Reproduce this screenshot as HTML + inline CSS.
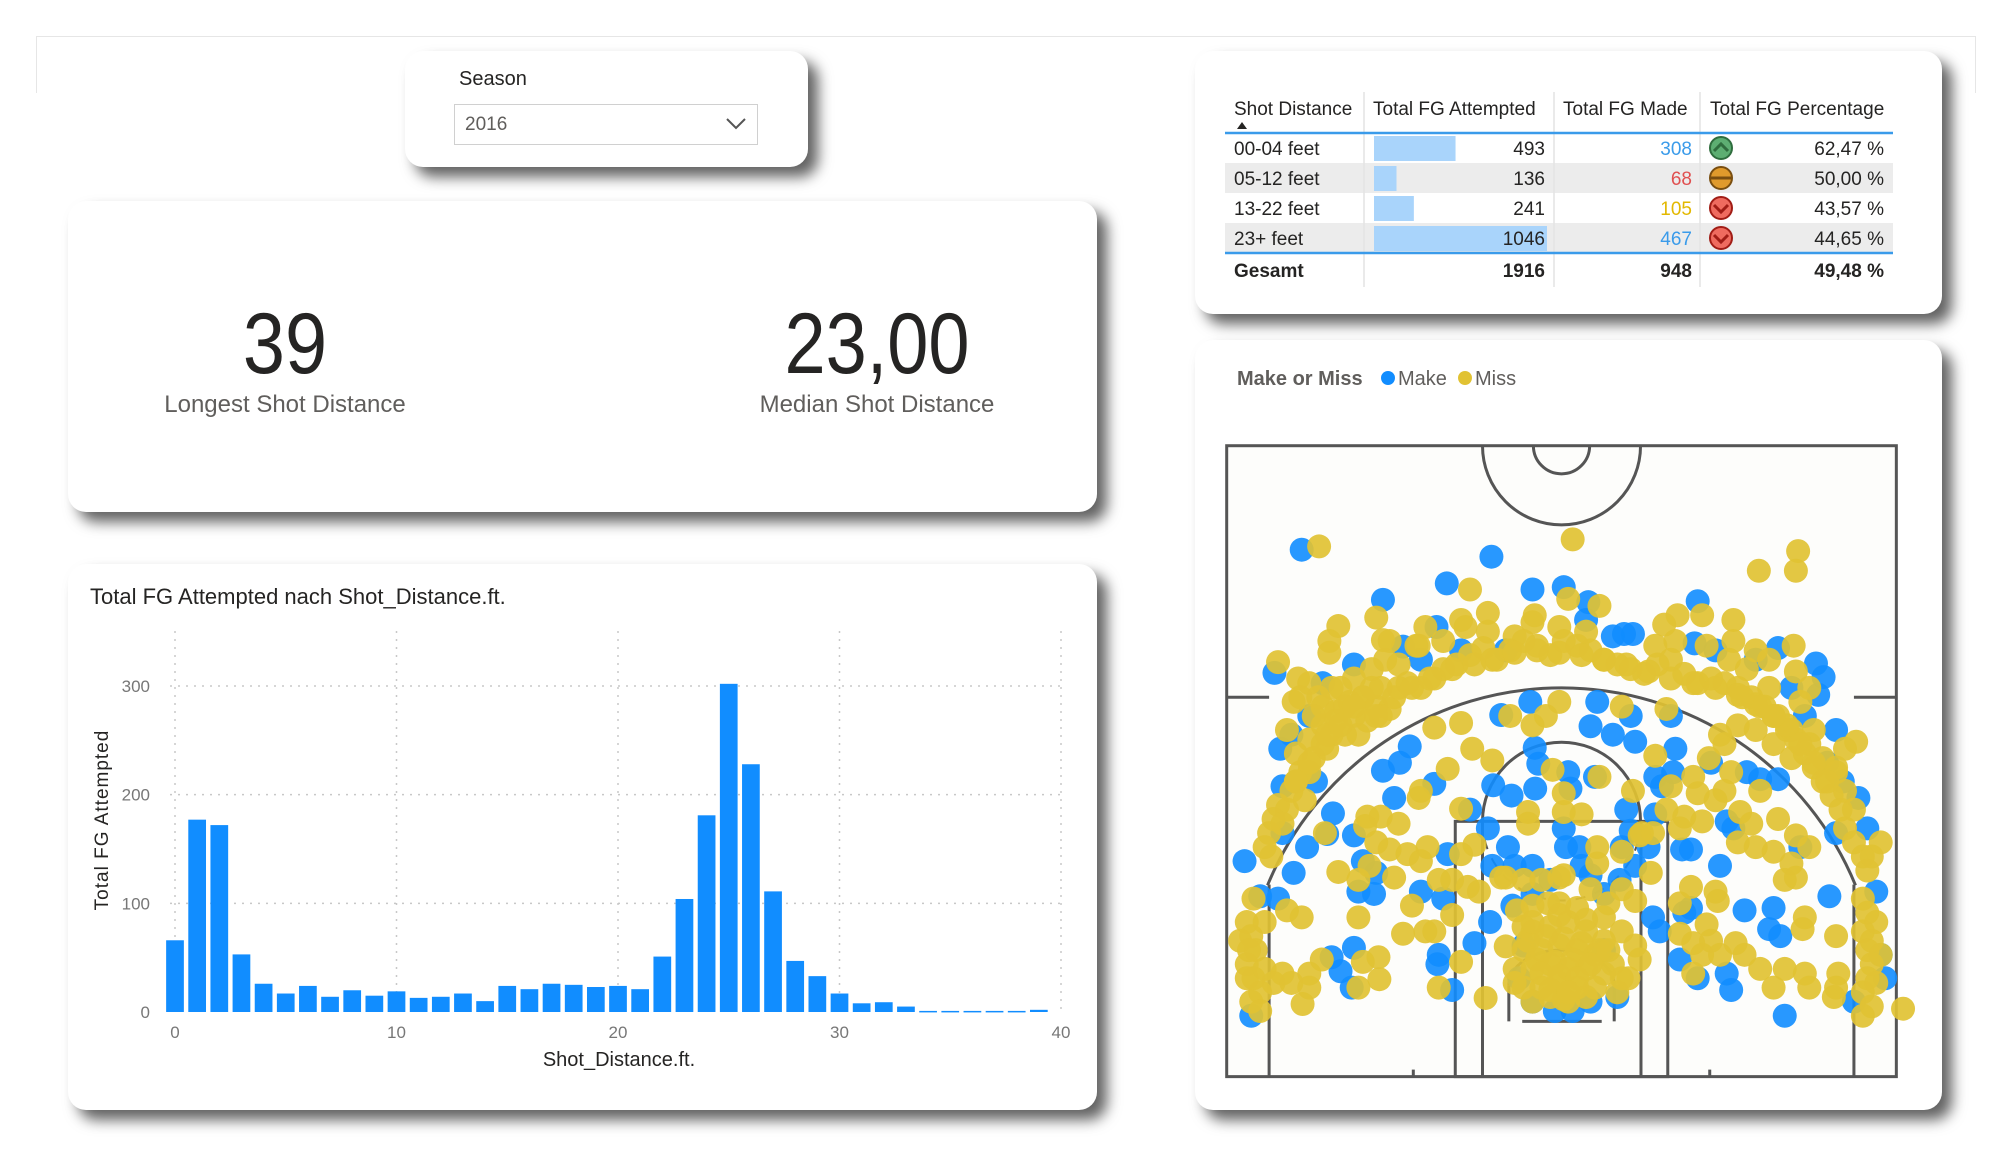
<!DOCTYPE html>
<html><head><meta charset="utf-8">
<style>
body{margin:0;width:2000px;height:1156px;background:#fff;position:relative;overflow:hidden;font-family:"Liberation Sans",sans-serif;}
.card{position:absolute;background:#fff;border-radius:18px;box-shadow:10px 10px 14px rgba(0,0,0,0.62);}
.t{position:absolute;white-space:nowrap;}
</style></head><body>
<div style="position:absolute;left:36px;top:36px;width:1938px;height:56px;border:1px solid #e6e6e6;border-bottom:none;"></div>

<div class="card" style="left:405px;top:51px;width:403px;height:116px;">
  <div class="t" style="left:54px;top:17px;font-size:20px;color:#252423;">Season</div>
  <div style="position:absolute;left:49px;top:53px;width:302px;height:39px;border:1px solid #d0d0d0;">
    <div class="t" style="left:10px;top:9px;font-size:19px;color:#605e5c;">2016</div>
    <svg style="position:absolute;left:270px;top:12px" width="22" height="14"><polyline points="2,2 11,11 20,2" fill="none" stroke="#555" stroke-width="2"/></svg>
  </div>
</div>

<div class="card" style="left:68px;top:201px;width:1029px;height:311px;">
  <div class="t" style="left:17px;width:400px;text-align:center;top:94px;font-size:86px;color:#252423;transform:scaleX(0.88);">39</div>
  <div class="t" style="left:17px;width:400px;text-align:center;top:190px;font-size:24px;color:#605e5c;">Longest Shot Distance</div>
  <div class="t" style="left:609px;width:400px;text-align:center;top:94px;font-size:86px;color:#252423;transform:scaleX(0.86);">23,00</div>
  <div class="t" style="left:609px;width:400px;text-align:center;top:190px;font-size:24px;color:#605e5c;">Median Shot Distance</div>
</div>

<div class="card" style="left:68px;top:564px;width:1029px;height:546px;"></div>
<div class="card" style="left:1195px;top:51px;width:747px;height:263px;"></div>
<div class="card" style="left:1195px;top:340px;width:747px;height:770px;"></div>

<svg id="main" width="2000" height="1156" style="position:absolute;left:0;top:0;font-family:'Liberation Sans',sans-serif;">
  <text x="90" y="604" font-size="22" fill="#252423">Total FG Attempted nach Shot_Distance.ft.</text>
  <text x="619" y="1066" font-size="20" fill="#252423" text-anchor="middle">Shot_Distance.ft.</text>
  <text transform="translate(108,820) rotate(-90)" font-size="19" fill="#252423" text-anchor="middle" letter-spacing="1">Total FG Attempted</text>
  <g id="bars"></g>
  <g id="table"></g>
  <text x="1237" y="385" font-size="20" font-weight="bold" fill="#605e5c">Make or Miss</text>
  <circle cx="1388" cy="378" r="7" fill="#118DFF"/>
  <text x="1398" y="385" font-size="20" fill="#605e5c">Make</text>
  <circle cx="1465" cy="378" r="7" fill="#E1C233"/>
  <text x="1475" y="385" font-size="20" fill="#605e5c">Miss</text>
  <g id="court"></g>
  <g id="shots"></g>
</svg>

<script>
// ---------- bar chart data ----------
const distances = [0,1,2,3,4,5,6,7,8,9,10,11,12,13,14,15,16,17,18,19,20,21,22,23,24,25,26,27,28,29,30,31,32,33,34,35,36,37,38,39];
const attempts = [66,177,172,53,26,17,24,14,20,15,19,13,14,17,10,24,21,26,25,23,24,21,51,104,181,302,228,111,47,33,17,8,9,5,1,1,1,1,1,2];
const xTicks = [0,10,20,30,40];
const yTicks = [0,100,200,300];
// ---------- table data ----------
const tblCats = ["00-04 feet","05-12 feet","13-22 feet","23+ feet"];
const tblAtt = [493,136,241,1046];
const tblMade = [308,68,105,467];
const tblPct = ["62,47 %","50,00 %","43,57 %","44,65 %"];
const tblTotals = ["Gesamt","1916","948","49,48 %"];
// ---------- shot data (court units: x 15..1515 sideline to sideline, y 183 half-court .. 1530 baseline) ----------
const makeX=[183,608,508,700,770,365,1070,825,820,485,905,925,1063,1250,1335,1352,122,300,410,695,845,630,830,880,930,920,1010,1020,1380,1340,1280,705,713,780,785,840,612,653,706,425,403,365,480,390,253,240,195,300,165,55,90,130,70,140,140,215,135,320,350,345,310,300,270,250,295,450,500,490,487,520,570,605,510,560,600,645,610,660,700,770,775,805,810,830,740,900,910,920,960,930,895,860,655,700,680,700,750,790,830,890,670,860,970,985,975,990,1035,1055,1120,1040,1055,1030,1070,1135,1145,1175,1230,1240,1255,1265,1365,1150,1135,1180,1210,1250,1300,1380,1430,1450,1470,1480,1490,1420,1100,1015,975,230,200,160,450,540,640,880,1110,1200,1310,1360,1395];
const makeY=[405,420,477,490,485,512,515,517,555,570,585,585,605,615,648,677,668,650,612,730,730,758,782,800,815,760,760,830,790,715,700,828,862,880,915,890,908,930,915,825,860,877,905,935,968,1012,1040,1015,1095,1070,1145,1150,1400,1010,910,900,830,1070,1095,1140,1135,1255,1305,1275,1340,1135,1150,1270,1290,1345,1245,1200,1055,960,1000,1040,1080,1080,1080,1000,1040,1040,1080,1100,1110,1040,960,1005,1040,1080,1110,1140,1165,1140,1250,1370,1390,1390,1370,1360,1320,1260,1190,1220,970,910,1045,1045,1080,1180,1170,1280,1320,1310,1345,1175,1215,1170,1230,1400,1145,1000,985,880,895,895,1040,1010,935,1000,1135,1270,1320,1370,860,880,890,690,760,800,640,620,620,590,620,640,760,860,900];
const missX=[150,170,200,230,260,290,320,350,380,300,250,210,180,160,130,120,110,100,115,270,300,340,370,400,420,450,480,500,530,560,590,620,650,680,710,740,770,800,830,860,890,920,950,980,1010,1040,1070,1100,1130,1160,1190,1220,1250,1270,1290,1310,1330,1350,1370,1390,1400,1420,1440,1450,1230,1180,1140,1300,1330,1160,1200,1240,1280,1380,1400,1120,1130,400,360,330,280,240,200,170,230,250,380,440,500,550,600,700,760,820,850,660,1020,1090,1150,1200,1230,1285,1290,1320,560,540,600,705,780,1080,1150,1025,995,975,460,445,350,365,265,245,245,130,175,200,165,220,222,790,1295,1207,1290,1425,60,70,80,60,75,90,70,90,60,100,120,140,100,75,45,65,1440,1450,1440,1450,1460,1450,1440,1460,1440,1460,1470,1480,1470,1480,1460,1530,700,740,780,820,860,680,720,760,800,840,880,660,700,740,780,820,860,900,680,720,760,800,840,700,740,780,820,760,800,860,900,930,940,915,665,700,735,630,680,720,760,770,565,610,510,450,445,540,400,330,360,325,350,380,420,450,465,540,570,520,555,580,490,390,310,265,335,430,460,410,480,520,540,490,595,640,310,183,150,228,200,160,200,185,320,355,357,310,235,1055,1110,1115,1030,1030,1060,1090,1100,1080,1060,1120,1155,1175,1210,1240,1265,1310,1320,1385,1380,1375,1380,1310,1305,1290,1265,1280,1240,1290,1320,1250,1210,1165,1190,1110,1130,1070,1060,1010,1040,1030,1080,1160,1200,1000,970,940,925,850,770,745,770,810,690,690,1095,1145,975,900,1000,760,730,700,650,540,480,770,845,845,900,945,965,930,900,830,870,640,680,
 690,730,770,810,850,710,750,790,830,720,760,800,740,780,660,870,890,700,820,760,
 260,280,320,340,360,230,200,170,190,150,140,310,350,390,430,470,520,570,610,660,710,760,810,860,910,960,1010,1060,1110,1160,1200,1240,1280,1320,1350,1380,1400,1420,1360,1330,1300,1270,1240,1210,1170,180,210,240,270,300];
const missY=[790,840,810,780,750,730,720,740,745,760,800,850,880,920,950,980,1010,1040,1060,700,680,660,640,650,690,700,680,660,650,630,615,640,620,600,610,630,600,610,620,640,650,660,670,650,640,670,690,680,690,700,720,740,760,790,810,840,870,900,930,960,1000,1030,1060,1090,700,660,640,730,790,780,790,820,850,870,830,800,820,700,700,770,800,830,880,900,740,700,600,610,600,570,580,560,570,580,525,590,600,610,600,620,640,610,665,700,490,555,540,545,510,545,555,545,565,610,570,610,550,598,568,600,625,645,680,690,730,720,398,383,408,450,450,815,1200,1230,1260,1290,1320,1350,1370,1390,1320,1300,1330,1310,1200,1150,1240,1260,1150,1180,1220,1260,1290,1320,1350,1380,1400,1240,1330,1270,1200,1030,1060,1385,1220,1210,1200,1220,1240,1260,1260,1250,1260,1270,1290,1300,1300,1290,1300,1300,1310,1320,1340,1340,1330,1340,1340,1370,1360,1370,1360,1160,1170,1190,1220,1250,1280,1320,1175,1165,1160,1105,1110,1110,1105,1100,830,855,873,920,935,958,990,975,975,995,1030,1045,1055,1070,1040,1055,1035,1110,1125,1135,1110,1105,1110,1093,1080,1165,1220,1225,1220,1185,1285,1340,1362,1252,1190,1190,1175,1280,1310,1330,1340,1375,1285,1275,1322,1340,1010,1125,1135,1155,1160,1225,1245,1205,1240,1270,1310,1270,1245,1270,1300,1340,1300,1310,1340,1310,1340,1360,1230,1190,1215,1105,1110,1075,1050,1015,1040,980,920,965,990,940,920,925,890,910,975,1000,985,1030,1040,960,1010,1015,920,890,925,875,965,970,965,990,850,880,845,740,745,730,760,780,760,775,785,1365,1040,1075,1050,1010,1095,1155,1130,1130,1160,1105,1210,
 1240,1230,1235,1245,1260,1280,1285,1280,1290,1310,1315,1320,1345,1350,1330,1260,1350,1200,1195,1185,
 770,740,720,700,760,820,860,900,940,960,990,800,760,720,700,680,660,650,640,625,620,625,630,640,650,665,680,690,700,715,735,760,790,820,850,880,920,960,900,860,820,780,760,740,720,720,760,800,780,740];

const NS="http://www.w3.org/2000/svg";
function mk(tag,attrs,parent){const e=document.createElementNS(NS,tag);for(const k in attrs)e.setAttribute(k,attrs[k]);parent.appendChild(e);return e;}

// ---------- bar chart ----------
const bx0=175,bx1=1061,by0=1012,by300=686;
const xS=v=>bx0+(v-0)*(bx1-bx0)/40;
const yS=v=>by0-(v)*(by0-by300)/300;
const gB=document.getElementById('bars');
xTicks.forEach(t=>{
  const l=mk('line',{x1:xS(t),x2:xS(t),y1:631,y2:by0,stroke:'#c8c8c8','stroke-dasharray':'2,6','stroke-width':1.5},gB);
  
  
  const tx=mk('text',{x:xS(t),y:1038,'font-size':17,fill:'#777','text-anchor':'middle'},gB);
  tx.textContent=t;
  
  
});
yTicks.forEach(t=>{
  if(t>0){const l=mk('line',{x1:bx0-5,x2:bx1+4,y1:yS(t),y2:yS(t),stroke:'#c8c8c8','stroke-dasharray':'2,6','stroke-width':1.5},gB);
  
  }
  const tx=mk('text',{x:150,y:yS(t)+6,'font-size':17,fill:'#777','text-anchor':'end'},gB);
  tx.textContent=t;
  
  
});
const unit=(bx1-bx0)/40, bw=unit*0.8;
distances.forEach((d,i)=>{
  const v=attempts[i];
  const r=mk('rect',{x:xS(d)-bw/2,y:yS(v),width:bw,height:Math.max(1.5,by0-yS(v)),fill:'#118DFF'},gB);
  
  
});

// ---------- table ----------
const gT=document.getElementById('table');
const colSep=[1364,1554,1700];
const rowTop=[133,163,193,223];
function txt(x,y,s,opts,name){const t=mk('text',Object.assign({x:x,y:y,'font-size':19,fill:'#252423'},opts||{}),gT);t.textContent=s;return t;}
[1,3].forEach(i=>{const r=mk('rect',{x:1225,y:rowTop[i],width:668,height:30,fill:'#ececec'},gT);});
colSep.forEach(x=>{const l=mk('line',{x1:x,x2:x,y1:92,y2:287,stroke:'#e3e3e3','stroke-width':1.5},gT);});
txt(1234,115,'Shot Distance',{},'header-shot-distance');
txt(1373,115,'Total FG Attempted',{},'header-fg-attempted');
txt(1563,115,'Total FG Made',{},'header-fg-made');
txt(1710,115,'Total FG Percentage',{},'header-fg-percentage');
{const p=mk('polygon',{points:'1237,129 1247,129 1242,122',fill:'#252423'},gT);}
[133,253].forEach(y=>{const l=mk('line',{x1:1225,x2:1893,y1:y,y2:y,stroke:'#3a9bea','stroke-width':2.5},gT);});
const maxAtt=Math.max(...tblAtt);
const madeColors=['#3a9bea','#e05050','#e3b800','#3a9bea'];
tblCats.forEach((c,i)=>{
  const y=rowTop[i]+22;
  txt(1234,y,c,{},'row-label');
  const db=mk('rect',{x:1374,y:rowTop[i]+3,width:173*tblAtt[i]/maxAtt,height:25,fill:'#a9d4fb'},gT);
  
  
  txt(1545,y,tblAtt[i],{'text-anchor':'end'},'attempted-value');
  txt(1692,y,tblMade[i],{'text-anchor':'end',fill:madeColors[i]},'made-value');
  txt(1884,y,tblPct[i],{'text-anchor':'end'},'percentage-value');
  const cx=1721,cy=rowTop[i]+15;
  const pct=tblMade[i]/tblAtt[i];
  let fill,stroke;
  if(pct>0.55){fill='#5dae72';stroke='#2f6d3e';}else if(pct>=0.48){fill='#e09a2c';stroke='#7a4e10';}else{fill='#ef6b5f';stroke='#a11d16';}
  const ic=mk('circle',{cx:cx,cy:cy,r:11,fill:fill,stroke:stroke,'stroke-width':2},gT);
  
  
  let d;
  if(pct>0.55)d=`M${cx-7},${cy+3} L${cx},${cy-4} L${cx+7},${cy+3}`;
  else if(pct>=0.48)d=`M${cx-10},${cy} L${cx+10},${cy}`;
  else d=`M${cx-7},${cy-3} L${cx},${cy+4} L${cx+7},${cy-3}`;
  const ip=mk('path',{d:d,fill:'none',stroke:stroke,'stroke-width':3},gT);
  
  
});
txt(1234,277,tblTotals[0],{'font-weight':'bold'},'total-label');
txt(1545,277,tblTotals[1],{'font-weight':'bold','text-anchor':'end'},'total-attempted');
txt(1692,277,tblTotals[2],{'font-weight':'bold','text-anchor':'end'},'total-made');
txt(1884,277,tblTotals[3],{'font-weight':'bold','text-anchor':'end'},'total-percentage');

// ---------- court ----------
const CX=z=>1220+z/2.24, CY=z=>360+z/2.135;
const gC=document.getElementById('court');
const st={fill:'none',stroke:'#555','stroke-width':3};
function cl(x1,y1,x2,y2,name,extra){const l=mk('line',Object.assign({x1:CX(x1),y1:CY(y1),x2:CX(x2),y2:CY(y2)},st,extra||{}),gC);}
function arc(cx,cy,rx,ry,a0,a1,name,extra){const p0=[CX(cx+rx*Math.cos(a0)),CY(cy+ry*Math.sin(a0))],p1=[CX(cx+rx*Math.cos(a1)),CY(cy+ry*Math.sin(a1))];
  const large=Math.abs(a1-a0)>Math.PI?1:0;const sweep=a1>a0?1:0;
  const p=mk('path',Object.assign({d:`M${p0[0]},${p0[1]} A${rx/2.24},${ry/2.135} 0 ${large} ${sweep} ${p1[0]},${p1[1]}`},st,extra||{}),gC);}
{const r=mk('rect',{x:CX(15),y:CY(183),width:CX(1515)-CX(15),height:CY(1530)-CY(183),fill:'#fdfdfb',stroke:'#555','stroke-width':3},gC);}
arc(765,183,177,169,0,Math.PI,'center-circle-outer');
arc(765,183,63,60,0,Math.PI,'center-circle-inner');
cl(110,1530,110,1120,'three-point-corner-left');
cl(1420,1530,1420,1120,'three-point-corner-right');
arc(765,1380,712,680,Math.PI+0.39,2*Math.PI-0.39,'three-point-arc');
{const r=mk('rect',Object.assign({x:CX(527),y:CY(985),width:CX(1003)-CX(527),height:CY(1530)-CY(985)},st),gC);}
cl(588,985,588,1530,'lane-inner-left');
cl(943,985,943,1530,'lane-inner-right');
arc(765,985,177,169,Math.PI,2*Math.PI,'free-throw-circle-top');
arc(765,985,177,169,0,Math.PI,'free-throw-circle-bottom',{'stroke-dasharray':'10,10','stroke-width':2});
cl(677,1412,855,1412,'backboard');
arc(765,1335,118,75,Math.PI,2*Math.PI,'restricted-area');
cl(647,1335,647,1412,'restricted-left');
cl(883,1335,883,1412,'restricted-right');
cl(15,720,110,720,'hash-left');
cl(1420,720,1515,720,'hash-right');
cl(433,1515,433,1530,'baseline-tick-left');
cl(1097,1515,1097,1530,'baseline-tick-right');

// ---------- shots ----------
const gS=document.getElementById('shots');
makeX.forEach((x,i)=>{const c=mk('circle',{cx:CX(x),cy:CY(makeY[i]),r:12,fill:'#118DFF','fill-opacity':0.9},gS);
  
  });
missX.forEach((x,i)=>{const c=mk('circle',{cx:CX(x),cy:CY(missY[i]),r:12,fill:'#E1C233','fill-opacity':0.92},gS);
  
  });
</script>
</body></html>
